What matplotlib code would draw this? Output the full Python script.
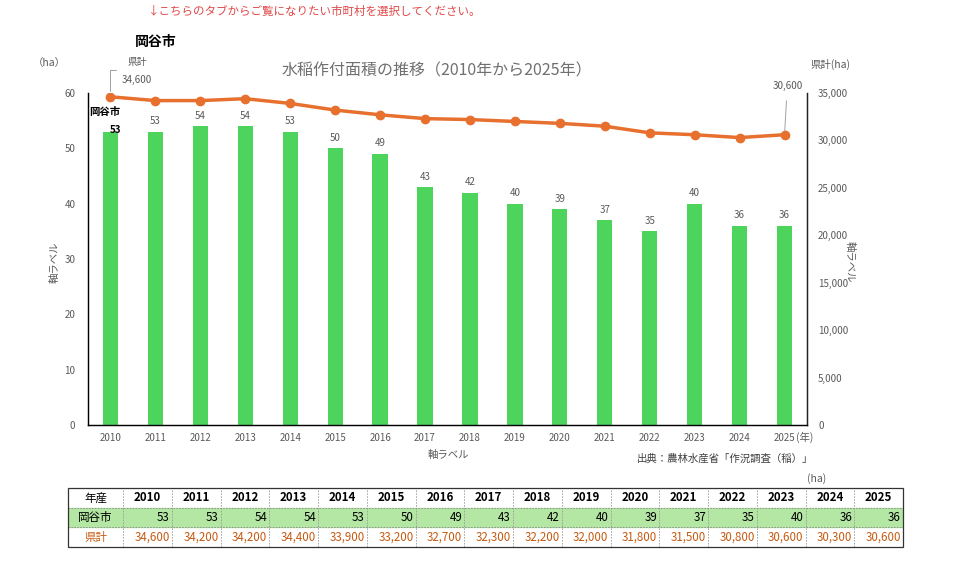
import numpy as np
import matplotlib.pyplot as plt
import matplotlib.patches as mpatches

plt.rcParams['font.family'] = ['Noto Sans CJK JP', 'DejaVu Sans']

# データ
years = [2010, 2011, 2012, 2013, 2014, 2015, 2016, 2017,
         2018, 2019, 2020, 2021, 2022, 2023, 2024, 2025]
okaya = [53, 53, 54, 54, 53, 50, 49, 43, 42, 40, 39, 37, 35, 40, 36, 36]
ken_total = [34600, 34200, 34200, 34400, 33900, 33200, 32700, 32300,
             32200, 32000, 31800, 31500, 30800, 30600, 30300, 30600]

GREEN = '#4cd45c'
ORANGE = '#e8702f'
GREY = '#595959'
W, H = 960, 569

def fx(px):
    return px / W

def fy(py):
    return 1 - py / H

fig = plt.figure(figsize=(9.6, 5.69), dpi=100)
ax = fig.add_axes([fx(88), fy(425), fx(807) - fx(88), fy(93) - fy(425)])
x = np.arange(len(years))

ax.bar(x, okaya, width=0.34, color=GREEN, zorder=2)
ax.set_xlim(-0.5, len(years) - 0.5)
ax.set_ylim(0, 60)
ax.set_yticks(range(0, 61, 10))
ax.set_xticks(x)
ax.set_xticklabels([str(y) for y in years])
ax.tick_params(length=0, labelsize=7, colors=GREY, pad=6)
ax.tick_params(axis='y', pad=9)
ax.spines['top'].set_visible(False)
for s in ['left', 'bottom', 'right']:
    ax.spines[s].set_color('#222222')
    ax.spines[s].set_linewidth(1.0)

# 棒ラベル
for i, v in enumerate(okaya):
    if i == 0:
        ax.annotate(str(v), (x[i], v), xytext=(4, 1), textcoords='offset points',
                    ha='center', va='center', fontsize=7, fontweight='bold', color='black')
        ax.annotate('岡谷市', (x[i], v), xytext=(-15, 14), textcoords='offset points',
                    ha='left', va='center', fontsize=7.5, fontweight='bold', color='black')
    else:
        ax.annotate(str(v), (x[i], v), xytext=(0, 4), textcoords='offset points',
                    ha='center', va='bottom', fontsize=7, color=GREY)

ax2 = ax.twinx()
ax2.plot(x, ken_total, color=ORANGE, lw=2.5, marker='o', ms=6, zorder=3)
ax2.set_ylim(0, 35000)
ax2.set_yticks(range(0, 35001, 5000))
ax2.set_yticklabels([f'{v:,}' for v in range(0, 35001, 5000)])
ax2.tick_params(length=0, labelsize=7, colors=GREY, pad=8)
ax2.spines['top'].set_visible(False)
ax2.spines['right'].set_color('#222222')
ax2.set_xlim(-0.5, len(years) - 0.5)

# 折れ線ラベル
p0 = (x[0], ken_total[0])
ax2.annotate('', p0, xytext=(4, 19), textcoords='offset points',
             arrowprops=dict(arrowstyle='-', color='#a0a0a0', lw=0.7, shrinkA=0, shrinkB=4,
                             connectionstyle='angle,angleA=0,angleB=90,rad=0'))
ax2.annotate('34,600', p0, xytext=(8, 12), textcoords='offset points',
             ha='left', va='center', fontsize=7, color=GREY)
ax2.annotate('県計', p0, xytext=(19, 25), textcoords='offset points',
             ha='center', va='center', fontsize=7, color=GREY)
ax2.annotate('30,600', (x[-1], ken_total[-1]), xytext=(2, 35), textcoords='offset points',
             ha='center', va='center', fontsize=7, color=GREY,
             arrowprops=dict(arrowstyle='-', color='#a0a0a0', lw=0.7, shrinkA=5, shrinkB=3))

# テキスト
fig.text(fx(315), fy(11), '↓こちらのタブからご覧になりたい市町村を選択してください。',
         ha='center', va='center', fontsize=8.3, color='#e04848')
fig.text(fx(156), fy(42), '岡谷市', ha='center', va='center', fontsize=10, fontweight='bold')
fig.text(fx(437), fy(71), '水稲作付面積の推移（2010年から2025年）', ha='center', va='center',
         fontsize=11.5, color='#707070')
fig.text(fx(49), fy(63), '（ha）', ha='center', va='center', fontsize=7.5, color=GREY)
fig.text(fx(830), fy(64), '県計(ha)', ha='center', va='center', fontsize=7.5, color=GREY)
fig.text(fx(805), fy(437), '(年)', ha='center', va='center', fontsize=7.5, color=GREY)
fig.text(fx(448), fy(455), '軸ラベル', ha='center', va='center', fontsize=7.5, color=GREY)
fig.text(fx(55), fy(262), '軸ラベル', ha='center', va='center', fontsize=7.5, color=GREY,
         rotation=90)
fig.text(fx(850), fy(262), '軸ラベル', ha='center', va='center', fontsize=7.5, color=GREY,
         rotation=270)
fig.text(fx(725), fy(459), '出典：農林水産省「作況調査（稲）」', ha='center', va='center',
         fontsize=7.5, color='#404040')
fig.text(fx(817), fy(479), '(ha)', ha='center', va='center', fontsize=7.5, color=GREY)

# 表
tx0, tx1, ty0, ty1 = 68, 903, 488, 547
tax = fig.add_axes([fx(tx0), fy(ty1), fx(tx1) - fx(tx0), fy(ty0) - fy(ty1)])
tw = tx1 - tx0
first_w = 55
col_w = (tw - first_w) / len(years)
tax.set_xlim(0, tw)
tax.set_ylim(0, 3)
tax.axis('off')
tax.add_patch(mpatches.Rectangle((0, 1), tw, 1, color='#b4e6a4', zorder=0))
tax.add_patch(mpatches.Rectangle((0, 0), tw, 3, fill=False, ec='#333333', lw=0.9, zorder=3,
                                 clip_on=False))
for r in [1, 2]:
    tax.plot([0, tw], [r, r], color='#8a8a8a', lw=0.6, ls=(0, (2, 1.5)), zorder=2)
for c in range(len(years)):
    xl = first_w + c * col_w
    tax.plot([xl, xl], [0, 3], color='#9a9a9a', lw=0.6, ls=(0, (2, 1.5)), zorder=2)

tax.text(first_w / 2, 2.5, '年産', ha='center', va='center', fontsize=8.3)
tax.text(first_w / 2, 1.5, '岡谷市', ha='center', va='center', fontsize=8.3)
tax.text(first_w / 2, 0.5, '県計', ha='center', va='center', fontsize=8.3, color='#c55a11')
for c, (yr, v1, v2) in enumerate(zip(years, okaya, ken_total)):
    xc = first_w + (c + 0.5) * col_w
    xr = first_w + (c + 1) * col_w - 2
    tax.text(xc, 2.5, str(yr), ha='center', va='center', fontsize=8.3, fontweight='bold')
    tax.text(xr, 1.5, str(v1), ha='right', va='center', fontsize=8.3)
    tax.text(xr, 0.5, f'{v2:,}', ha='right', va='center', fontsize=8.3, color='#c55a11')

fig.savefig('out.png', dpi=100)
